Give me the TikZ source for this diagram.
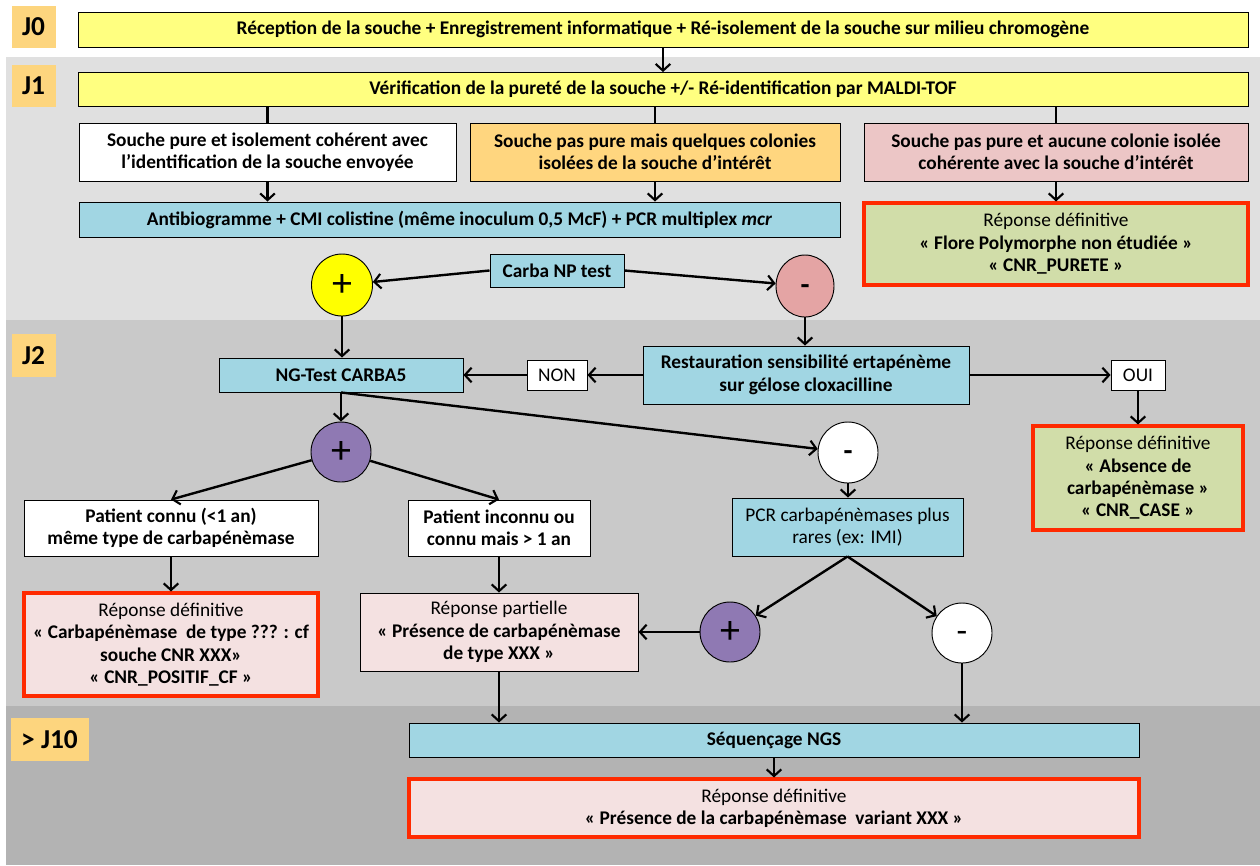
\documentclass[tikz,border=0pt]{standalone}
\usepackage{fontspec}
\setmainfont{Carlito}
\usetikzlibrary{arrows.meta,shapes.geometric}
\definecolor{bandA}{HTML}{E0E0E0}
\definecolor{bandB}{HTML}{C9C9C9}
\definecolor{bandC}{HTML}{B3B3B3}
\definecolor{labo}{HTML}{FDD57E}
\definecolor{yel}{HTML}{FFFF80}
\definecolor{oran}{HTML}{FFD67F}
\definecolor{pinkc}{HTML}{ECC6C6}
\definecolor{blu}{HTML}{A1D6E3}
\definecolor{gre}{HTML}{D1DDA9}
\definecolor{pinkl}{HTML}{F4E1E1}
\definecolor{redb}{HTML}{FF2A00}
\definecolor{circy}{HTML}{FFFF00}
\definecolor{circp}{HTML}{E4A4A4}
\definecolor{purp}{HTML}{8F79B3}
\tikzset{
  sz/.style 2 args={minimum width=#1*0.75pt, minimum height=#2*0.75pt},
  txt/.style={font=\fontsize{14.5}{16.8}\selectfont\bfseries},
  rtxt/.style={font=\fontsize{14.5}{16.8}\selectfont},
  box/.style={draw=black, line width=0.7pt, align=center, inner sep=1pt, txt},
  rbox/.style={draw=redb, line width=2.3pt, align=center, inner sep=1pt, txt},
  lab/.style={fill=labo, inner sep=0pt, font=\fontsize{20.5}{22}\selectfont\bfseries},
  circ/.style={ellipse, draw=black, line width=0.7pt, inner sep=0pt},
  plus/.style={font=\fontsize{30}{30}\selectfont},
  mns/.style={text height=0pt, text depth=0pt, yshift=0pt},
  arr/.style={-{Straight Barb[length=5pt,width=11pt,line width=1.6pt]}, line width=1.8pt},
  ln/.style={line width=1.8pt},
}
\begin{document}
\begin{tikzpicture}[x=0.75pt,y=-0.75pt]
\useasboundingbox (0,0) rectangle (1260,865);
\fill[white] (0,0) rectangle (1260,865);
\fill[bandA] (6,57) rectangle (1260,320);
\fill[bandB] (6,320) rectangle (1260,706);
\fill[bandC] (6,706) rectangle (1260,865);

% day labels
\node[lab, sz={44}{42}] (l0) at (33.5,27) {J0};
\node[lab, sz={44}{42}] (l1) at (33.5,86) {J1};
\node[lab, sz={44}{43}] (l2) at (33.5,355.5) {J2};
\node[lab, sz={78}{43}] (l10) at (49.5,739.5) {> J10};

% J0 / J1
\node[box, fill=yel, sz={1170}{35}] (j0) at (663,29.5) {Réception de la souche + Enregistrement informatique + Ré-isolement de la souche sur milieu chromogène};
\node[box, fill=yel, sz={1170}{34}] (j1) at (663,89.5) {Vérification de la pureté de la souche +/- Ré-identification par MALDI-TOF};

\node[box, fill=white, sz={377}{58}] (A) at (267.5,152) {Souche pure et isolement cohérent avec\\l’identification de la souche envoyée};
\node[box, fill=oran, sz={370}{58}] (B) at (655,152) {Souche pas pure mais quelques colonies\\isolées de la souche d’intérêt};
\node[box, fill=pinkc, sz={384}{58}] (C) at (1056,152) {Souche pas pure et aucune colonie isolée\\cohérente avec la souche d’intérêt};

\node[box, fill=blu, sz={761}{35}] (D) at (459.5,219.5) {Antibiogramme + CMI colistine (même inoculum 0,5 McF) + PCR multiplex \textit{mcr}};
\node[rbox, fill=gre, sz={384}{82}] (E) at (1056,244) {{\mdseries Réponse définitive}\\« Flore Polymorphe non étudiée »\\« CNR\_PURETE »};

\node[box, fill=blu, sz={134}{33}] (carba) at (557,270.5) {Carba NP test};
\node[circ, fill=circy, sz={61}{62}, plus] (p1) at (342,285) {+};
\node[circ, fill=circp, sz={58}{62}, font=\fontsize{22}{22}\selectfont\bfseries, mns] (m1) at (805,286) {\raisebox{-0.28em}{-}};

% J2
\node[box, fill=blu, sz={244}{34}] (ng) at (341,375) {NG-Test CARBA5};
\node[box, fill=white, sz={60}{30}, rtxt] (non) at (557,375) {NON};
\node[box, fill=blu, sz={326}{58}] (rest) at (806,375) {Restauration sensibilité ertapénème\\sur gélose cloxacilline};
\node[box, fill=white, sz={54}{30}, rtxt] (oui) at (1138,375) {OUI};
\node[rbox, fill=gre, sz={210}{104}] (F) at (1138,478) {{\mdseries Réponse définitive}\\« Absence de\\carbapénèmase »\\« CNR\_CASE »};

\node[circ, fill=purp, sz={60}{60}, plus] (p2) at (341,452) {+};
\node[circ, fill=white, sz={60}{61}, font=\fontsize{22}{22}\selectfont\bfseries, mns] (m2) at (848,452.5) {\raisebox{-0.28em}{-}};

\node[box, fill=white, sz={294}{56}] (pc) at (171,528) {Patient connu (<1 an)\\même type de carbapénèmase};
\node[box, fill=white, sz={182}{56}] (pi) at (499,528) {Patient inconnu ou\\connu mais > 1 an};
\node[box, fill=blu, sz={231}{58}, rtxt] (pcr) at (847.5,527) {PCR carbapénèmases plus\\rares (ex: IMI)};

\node[rbox, fill=pinkl, sz={294}{103}] (G) at (171,644.5) {{\mdseries Réponse définitive}\\« Carbapénèmase\ \ de type ??? : cf\\souche CNR XXX»\\« CNR\_POSITIF\_CF »};
\node[box, fill=pinkl, sz={278}{78}] (H) at (499,632) {{\mdseries Réponse partielle}\\« Présence de carbapénèmase\\de type XXX »};

\node[circ, fill=purp, sz={60}{60}, plus] (p3) at (730,632) {+};
\node[circ, fill=white, sz={60}{60}, font=\fontsize{26}{26}\selectfont, mns] (m3) at (962,633) {\raisebox{-0.28em}{-}};

% J10
\node[box, fill=blu, sz={730}{34}] (seq) at (774,740) {Séquençage NGS};
\node[rbox, fill=pinkl, sz={730}{58}] (fin) at (774,808) {{\mdseries Réponse définitive}\\« Présence de la carbapénèmase\ \ variant XXX »};

% connectors
\draw[arr] (j0.south) -- (j1.north);
\draw[ln] (A.north |- j1.south) -- (A.north);
\draw[ln] (B.north |- j1.south) -- (B.north);
\draw[ln] (C.north |- j1.south) -- (C.north);
\draw[arr] (A.south) -- (A.south |- D.north);
\draw[arr] (B.south) -- (B.south |- D.north);
\draw[arr] (C.south) -- (E.north);
\draw[arr] (carba.west) -- (p1);
\draw[arr] (carba.east) -- (m1);
\draw[arr] (p1.south) -- (p1.south |- ng.north);
\draw[arr] (m1.south) -- (m1.south |- rest.north);
\draw[arr] (rest.west) -- (non.east);
\draw[arr] (non.west) -- (ng.east);
\draw[arr] (rest.east) -- (oui.west);
\draw[arr] (oui.south) -- (F.north);
\draw[arr] (ng.south) -- (p2.north);
\draw[arr] (ng.south) -- (m2);
\draw[arr] (p2) -- (pc.north);
\draw[arr] (p2) -- (pi.north);
\draw[arr] (pc.south) -- (G.north);
\draw[arr] (pi.south) -- (H.north);
\draw[arr] (m2.south) -- (m2.south |- pcr.north);
\draw[arr] (pcr.south) -- (p3);
\draw[arr] (pcr.south) -- (m3);
\draw[arr] (p3.west) -- (H.east);
\draw[arr] (H.south) -- (H.south |- seq.north);
\draw[arr] (m3.south) -- (m3.south |- seq.north);
\draw[arr] (seq.south) -- (fin.north);
\end{tikzpicture}
\end{document}
